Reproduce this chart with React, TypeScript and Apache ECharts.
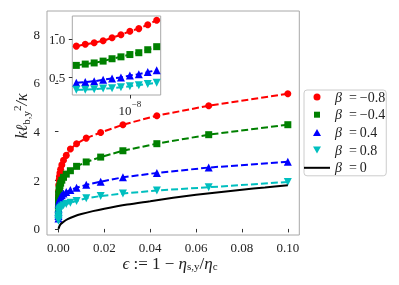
import React, { useEffect, useRef } from "react";
import * as echarts from "echarts";

// ---- main plot data (epsilon values shared by the four marker series) ----
const epsMain = [0.1, 0.0655, 0.0429, 0.0281, 0.0184, 0.0121, 0.0079, 0.0052, 0.0034, 0.0022, 0.00146, 0.00095, 0.00063, 0.00041, 0.00027, 1e-4, 1e-5, 1e-6, 1e-7, 1e-8, 1e-9];
const redMain = [5.55, 5.06, 4.65, 4.28, 3.96, 3.73, 3.5, 3.28, 3.02, 2.82, 2.63, 2.45, 2.3, 2.15, 2.02, 1.8, 1.55, 1.38, 1.25, 1.1, 0.9];
const greenMain = [4.28, 3.87, 3.5, 3.21, 2.95, 2.75, 2.57, 2.39, 2.25, 2.12, 2.0, 1.88, 1.78, 1.68, 1.6, 1.42, 1.18, 1.0, 0.88, 0.8, 0.65];
const blueMain = [2.76, 2.52, 2.3, 2.12, 1.94, 1.81, 1.69, 1.6, 1.52, 1.45, 1.38, 1.31, 1.25, 1.19, 1.13, 1.02, 0.82, 0.7, 0.6, 0.53, 0.43];
const cyanMain = [1.93, 1.71, 1.58, 1.45, 1.35, 1.26, 1.15, 1.07, 1.02, 0.97, 0.92, 0.87, 0.83, 0.79, 0.75, 0.66, 0.55, 0.47, 0.42, 0.38, 0.34];

// beta = 0 curve
const epsBlack = [0, 0.0005, 0.001, 0.002, 0.004, 0.007, 0.01, 0.015, 0.02, 0.03, 0.04, 0.05, 0.06, 0.07, 0.08, 0.09, 0.1];
const valBlack = [0, 0.13, 0.2, 0.28, 0.4, 0.52, 0.61, 0.73, 0.83, 1.0, 1.14, 1.28, 1.4, 1.51, 1.61, 1.7, 1.79];

// ---- inset data (x as log10 of epsilon) ----
const insetExp = [-8.6, -8.5, -8.4, -8.3, -8.2, -8.1, -8.0, -7.9, -7.8, -7.7];
const redInset = [0.91, 0.934, 0.955, 0.98, 1.02, 1.06, 1.105, 1.14, 1.19, 1.25];
const greenInset = [0.658, 0.675, 0.69, 0.714, 0.745, 0.77, 0.8, 0.824, 0.863, 0.903];
const blueInset = [0.43, 0.44, 0.45, 0.47, 0.487, 0.5, 0.526, 0.543, 0.57, 0.595];
const cyanInset = [0.34, 0.34, 0.346, 0.355, 0.36, 0.372, 0.385, 0.398, 0.415, 0.43];

const betaNames = ["β = −0.8", "β = −0.4", "β = 0.4", "β = 0.8", "β = 0"];
const xTicks = [0, 0.02, 0.04, 0.06, 0.08, 0.1];
const yTickStep = 2;
const insetYTicks = [0.5, 1.0];
const insetXTicks = [-8];

const SERIF = "'Liberation Serif', 'DejaVu Serif', serif";
const TXT = "#222";

const COLORS = ["#ff0000", "#008000", "#0000ff", "#00bfbf", "#000000"];
const SYMBOLS = ["circle", "rect", "triangle", "triangle"];
const ROT = [0, 0, 0, 180];

// main plot frame
const G_LEFT = 47, G_TOP = 11, G_W = 252.3, G_H = 224;
const Y_MIN = -0.25, Y_MAX = 8.95;

export default function App() {
  const ref = useRef<HTMLDivElement>(null);
  useEffect(() => {
    const chart = echarts.init(ref.current!, null, { renderer: "svg" });
    const mainVals = [redMain, greenMain, blueMain, cyanMain];
    const insetVals = [redInset, greenInset, blueInset, cyanInset];

    const series: any[] = [];
    mainVals.forEach((vals, k) => {
      series.push({
        type: "line",
        name: betaNames[k],
        xAxisIndex: 0,
        yAxisIndex: 0,
        data: epsMain.map((e, i) => [e, vals[i]]),
        symbol: SYMBOLS[k],
        symbolRotate: ROT[k],
        symbolSize: k >= 2 ? 8 : 7,
        showSymbol: true,
        showAllSymbol: true,
        itemStyle: { color: COLORS[k] },
        lineStyle: { color: COLORS[k], width: 2, type: [7, 3] },
        z: 2 + k,
      });
    });
    series.push({
      type: "line",
      name: betaNames[4],
      xAxisIndex: 0,
      yAxisIndex: 0,
      data: epsBlack.map((e, i) => [e, valBlack[i]]),
      symbol: "none",
      smooth: 0.3,
      itemStyle: { color: "#000" },
      lineStyle: { color: "#000", width: 2 },
      z: 7,
    });
    insetVals.forEach((vals, k) => {
      series.push({
        type: "line",
        name: "inset" + k,
        xAxisIndex: 1,
        yAxisIndex: 1,
        data: insetExp.map((e, i) => [e, vals[i]]),
        symbol: SYMBOLS[k],
        symbolRotate: ROT[k],
        symbolSize: k >= 2 ? 8 : 7,
        showSymbol: true,
        showAllSymbol: true,
        itemStyle: { color: COLORS[k] },
        lineStyle: { color: COLORS[k], width: 2, type: [7, 3] },
        z: 12 + k,
      });
    });

    const pad = "M0,0M26,8";
    const icons = [
      `path://${pad}M9.5,4A3.5,3.5,0,1,0,16.5,4A3.5,3.5,0,1,0,9.5,4Z`,
      `path://${pad}M10,1L16,1L16,7L10,7Z`,
      `path://${pad}M13,0.5L17,7.5L9,7.5Z`,
      `path://${pad}M9,0.5L17,0.5L13,7.5Z`,
      `path://${pad}M0,3L26,3L26,5L0,5Z`,
    ];

    const axisCommon = {
      axisLine: { show: false },
      splitLine: { show: false },
    };

    // tick grid: same frame but starting at y = 0 so that ticks count from 0
    const zeroPx = G_H * (Y_MAX - 0) / (Y_MAX - Y_MIN);

    const option: any = {
      animation: false,
      grid: [
        { left: G_LEFT, top: G_TOP, width: G_W, height: G_H, show: true, borderColor: "#a8a8a8", borderWidth: 1, backgroundColor: "transparent" },
        { left: 72.3, top: 16, width: 88.4, height: 79, show: true, borderColor: "#a8a8a8", borderWidth: 1, backgroundColor: "#ffffff", z: 10 },
        { left: G_LEFT, top: G_TOP, width: G_W, height: zeroPx, show: false },
      ],
      xAxis: [
        {
          ...axisCommon,
          type: "value",
          gridIndex: 0,
          min: -0.005,
          max: 0.105,
          axisTick: { show: true, length: 3.5, lineStyle: { color: "#333" }, customValues: xTicks },
          axisLabel: {
            customValues: xTicks,
            hideOverlap: false,
            formatter: (v: number) => v.toFixed(2),
            fontFamily: SERIF,
            fontSize: 13,
            color: TXT,
            margin: 6,
          },
        },
        {
          ...axisCommon,
          type: "value",
          gridIndex: 1,
          min: -8.645,
          max: -7.655,
          z: 10,
          axisTick: { show: true, length: 3.5, lineStyle: { color: "#333" }, customValues: insetXTicks },
          axisLabel: {
            customValues: insetXTicks,
            hideOverlap: false,
            formatter: () => "{b|10}{s|−8}",
            margin: 4,
            rich: {
              b: { fontFamily: SERIF, fontSize: 13, color: TXT, lineHeight: 18, verticalAlign: "bottom" },
              s: { fontFamily: SERIF, fontSize: 9, color: TXT, lineHeight: 12, verticalAlign: "top" },
            },
          },
        },
        {
          type: "value",
          gridIndex: 2,
          show: false,
          min: -0.005,
          max: 0.105,
        },
      ],
      yAxis: [
        {
          ...axisCommon,
          type: "value",
          gridIndex: 0,
          min: Y_MIN,
          max: Y_MAX,
          axisTick: { show: false },
          axisLabel: { show: false },
        },
        {
          ...axisCommon,
          type: "value",
          gridIndex: 1,
          min: 0.27,
          max: 1.305,
          z: 10,
          axisTick: { show: true, length: 3.5, lineStyle: { color: "#333" }, customValues: insetYTicks },
          axisLabel: {
            customValues: insetYTicks,
            hideOverlap: false,
            formatter: (v: number) => v.toFixed(1),
            fontFamily: SERIF,
            fontSize: 13,
            color: TXT,
            margin: 7,
          },
        },
        {
          ...axisCommon,
          type: "value",
          gridIndex: 2,
          min: 0,
          max: Y_MAX,
          interval: yTickStep,
          axisTick: { show: true, length: 3.5, lineStyle: { color: "#333" } },
          axisLabel: {
            hideOverlap: false,
            showMaxLabel: false,
            formatter: (v: number) => (v % yTickStep === 0 ? String(v) : ""),
            fontFamily: SERIF,
            fontSize: 13,
            color: TXT,
            margin: 7,
          },
        },
      ],
      legend: {
        orient: "vertical",
        left: 304,
        top: 90,
        padding: [0, 1, 1, 0],
        itemGap: 3.7,
        itemWidth: 26,
        itemHeight: 8,
        borderColor: "#cccccc",
        borderWidth: 1,
        borderRadius: 3,
        backgroundColor: "#fff",
        data: betaNames.map((n, i) => ({ name: n, icon: icons[i] })),
        formatter: (name: string) => {
          const rest = name.split("= ")[1];
          return `{i|β}{e|=}{t|${rest}}`;
        },
        textStyle: {
          fontFamily: SERIF,
          fontSize: 13,
          color: TXT,
          lineHeight: 10,
          rich: {
            i: { fontFamily: SERIF, fontSize: 14, fontStyle: "italic", color: TXT, lineHeight: 10 },
            e: { fontFamily: SERIF, fontSize: 14, color: TXT, lineHeight: 10, padding: [0, 3, 0, 7] },
            t: { fontFamily: SERIF, fontSize: 14, color: TXT, lineHeight: 10 },
          },
        },
      },
      graphic: [
        {
          type: "text",
          x: 21,
          y: 116,
          rotation: Math.PI / 2,
          style: {
            text: "{m|kℓ}{s|b,y}{p|2}{m|/κ}",
            align: "center",
            verticalAlign: "middle",
            rich: {
              m: { fontFamily: SERIF, fontSize: 16, fontStyle: "italic", fill: TXT, lineHeight: 20, verticalAlign: "middle" },
              s: { fontFamily: SERIF, fontSize: 11, fill: TXT, lineHeight: 11, verticalAlign: "bottom" },
              p: { fontFamily: SERIF, fontSize: 11, fill: TXT, lineHeight: 13, verticalAlign: "top" },
            },
          },
        },
        {
          type: "text",
          x: 170,
          y: 263,
          style: {
            text: "{i|ϵ}{n| := 1 − }{i|η}{s|s,y}{n|/}{i|η}{s|c}",
            align: "center",
            verticalAlign: "middle",
            rich: {
              i: { fontFamily: SERIF, fontSize: 17, fontStyle: "italic", fill: TXT, lineHeight: 16, verticalAlign: "middle" },
              n: { fontFamily: SERIF, fontSize: 17, fill: TXT, lineHeight: 16, verticalAlign: "middle" },
              s: { fontFamily: SERIF, fontSize: 11, fill: TXT, lineHeight: 8, verticalAlign: "bottom" },
            },
          },
        },
      ],
      series,
    };
    chart.setOption(option);
    return () => chart.dispose();
  }, []);
  return <div ref={ref} style={{ position: "fixed", left: 0, top: 0, width: 399, height: 285 }} />;
}
